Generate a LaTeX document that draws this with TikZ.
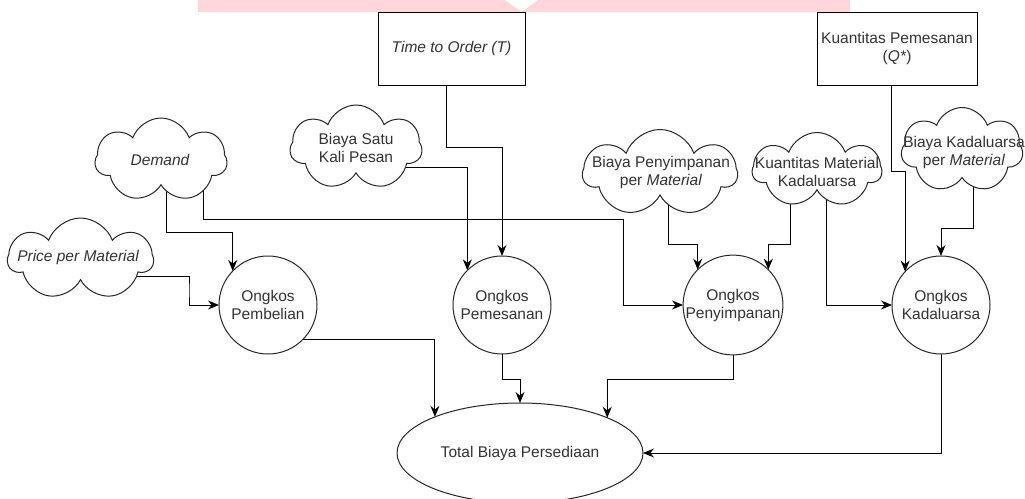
\documentclass[tikz,border=0pt]{standalone}
\usepackage{fontspec}
\setmainfont{Liberation Sans}
\usetikzlibrary{shapes.symbols,shapes.geometric,arrows.meta,backgrounds}
\definecolor{txtgray}{RGB}{51,51,51}
\definecolor{banner}{RGB}{255,214,219}
\begin{document}
\begin{tikzpicture}[x=1pt,y=-1pt,
  base/.style={font=\fontsize{15.5}{18}\selectfont, text=txtgray, align=center},
  cloudnode/.style={cloud, cloud puffs=7, cloud puff arc=140, cloud ignores aspect, draw=black!85, fill=white, line width=1pt, inner sep=0pt},
  boxnode/.style={rectangle, draw=black, line width=1pt, inner sep=0pt, base},
  circ/.style={circle, draw=black!85, fill=white, line width=1pt, minimum size=98pt, inner sep=0pt, outer sep=0pt, base},
  arr/.style={draw=black, line width=1pt, -{Stealth[length=11pt,width=9pt]}}
]
\useasboundingbox (0,0) rectangle (1025,498);
% banner
\fill[banner] (198,0) rectangle (850,11.7);
\fill[white] (505,0) -- (538,0) -- (521.5,11.7) -- cycle;
% boxes
\node[boxnode, minimum width=147pt, minimum height=73pt] (time) at (451.5,48.5) {\itshape Time to Order (T)};
\node[boxnode, minimum width=160pt, minimum height=73pt] (qbox) at (897,48.5) {Kuantitas Pemesanan\\(\textit{Q*})};
% clouds
\node[cloudnode, minimum width=145pt, minimum height=82pt] (price) at (80.5,259) {};
\node[base] (tprice) at (78,257) {\itshape Price per Material};
\node[cloudnode, minimum width=132pt, minimum height=84pt] (demand) at (161,160) {};
\node[base] (tdemand) at (160,160) {\itshape Demand};
\node[cloudnode, minimum width=132pt, minimum height=85pt] (satu) at (356,147.5) {};
\node[base] (tsatu) at (356,148) {Biaya Satu\\Kali Pesan};
\node[cloudnode, minimum width=154pt, minimum height=87pt] (bpeny) at (660,173) {};
\node[base] (tbpeny) at (661,172) {Biaya Penyimpanan\\per \textit{Material}};
\node[cloudnode, minimum width=129pt, minimum height=75pt] (kmk) at (817,170) {};
\node[base] (tkmk) at (817,172) {Kuantitas Material\\Kadaluarsa};
\node[cloudnode, minimum width=122pt, minimum height=85pt] (bkad) at (962,150) {};
\node[base] (tbkad) at (964,152) {Biaya Kadaluarsa\\per \textit{Material}};
% circles
\node[circ] (pemb) at (268,305) {Ongkos\\Pembelian};
\node[circ] (pemes) at (502,305) {Ongkos\\Pemesanan};
\node[circ] (peny) at (733,305) {Ongkos\\Penyimpanan};
\node[circ] (kad) at (941,305) {Ongkos\\Kadaluarsa};
\node[ellipse, draw=black!85, fill=white, line width=1pt, minimum width=246pt, minimum height=100pt, inner sep=0pt, outer sep=0pt, base] (total) at (520,453) {Total Biaya Persediaan};
% connectors
\begin{scope}[on background layer]
\draw[arr] ([xshift=5pt]demand.center) |- (pemb.136 |- 0,232) -- (pemb.136);
\draw[arr] ([xshift=42pt]demand.center) |- (623,219) |- (peny.west);
\draw[arr] ([yshift=-17pt]price.center) -| (189,290) |- (pemb.west);
\draw[arr] ([xshift=-5.5pt]time.south) |- (pemes.north |- 0,147) -- (pemes.north);
\draw[arr] ([yshift=-19.5pt]satu.center) -| (pemes.135);
\draw[arr] ([xshift=8pt]bpeny.center) |- (peny.135 |- 0,244) -- (peny.135);
\draw[arr] ([xshift=-27pt]kmk.center) |- (peny.45 |- 0,244) -- (peny.45);
\draw[arr] ([xshift=9pt]kmk.center) |- (kad.west);
\draw[arr] ([xshift=11pt]bkad.center) |- (kad.north |- 0,228) -- (kad.north);
\draw[arr] (pemb.-45.6) -| (total.157.9);
\draw[arr] (pemes.south) |- (total.north |- 0,379) -- (total.north);
\draw[arr] (peny.south) |- (total.22.1 |- 0,379) -- (total.22.1);
\draw[arr] (kad.south) |- (total.east);
\end{scope}
\draw[arr] ([xshift=-6pt]qbox.south) |- (kad.137 |- 0,171) -- (kad.137);
\end{tikzpicture}
\end{document}
